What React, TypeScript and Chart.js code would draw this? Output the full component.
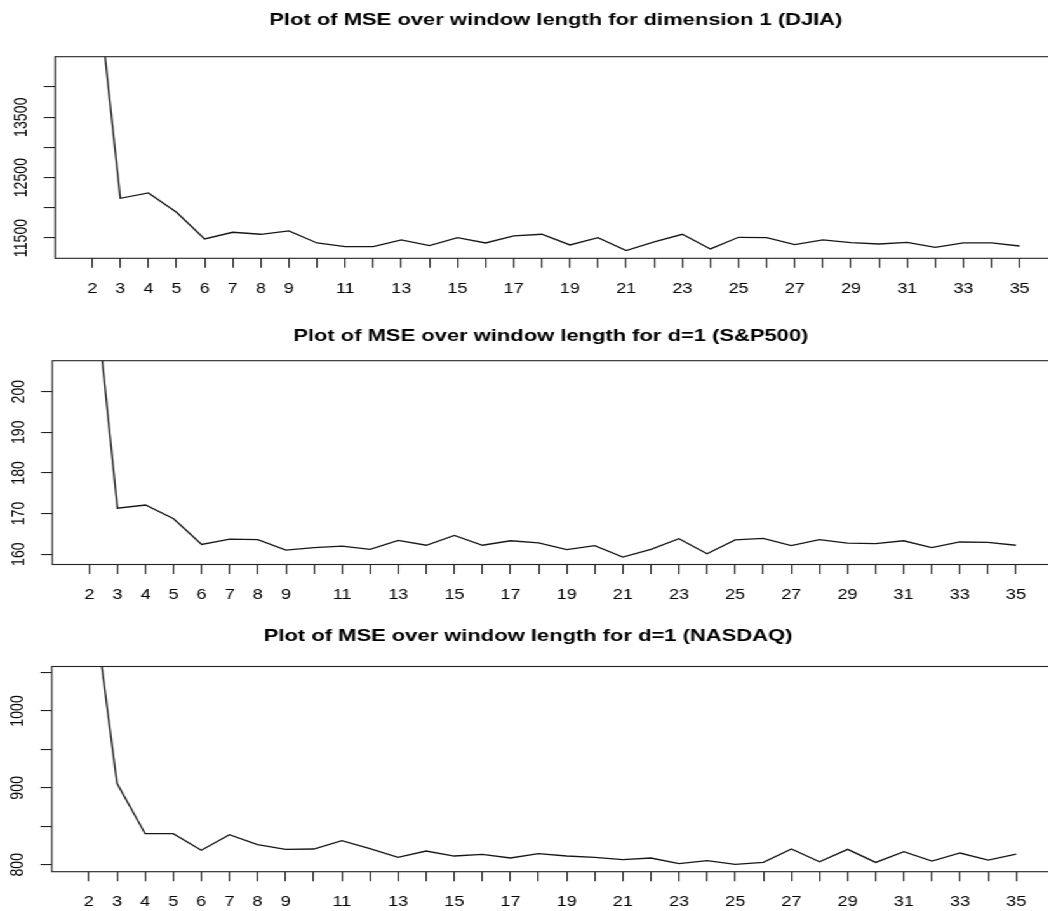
import React, { useEffect, useRef } from 'react';
import { Chart, registerables } from 'chart.js';

Chart.register(...registerables);

// ---------------- data ----------------
const windowLength = [2, 3, 4, 5, 6, 7, 8, 9, 10, 11, 12, 13, 14, 15, 16, 17, 18, 19, 20, 21, 22, 23, 24, 25, 26, 27, 28, 29, 30, 31, 32, 33, 34, 35];
const xLabelShown = [2, 3, 4, 5, 6, 7, 8, 9, 11, 13, 15, 17, 19, 21, 23, 25, 27, 29, 31, 33, 35];

const djiaMse = [16480, 12157, 12245, 11925, 11483, 11594, 11561, 11616, 11417, 11356, 11358, 11467, 11373, 11505, 11417, 11533, 11561, 11384, 11505, 11290, 11434, 11561, 11318, 11511, 11505, 11390, 11467, 11423, 11400, 11428, 11345, 11417, 11417, 11367];
const sp500Mse = [238.5, 171.3, 172.1, 168.7, 162.4, 163.7, 163.6, 161.0, 161.6, 162.0, 161.2, 163.4, 162.2, 164.6, 162.2, 163.3, 162.8, 161.1, 162.1, 159.3, 161.2, 163.8, 160.1, 163.5, 163.9, 162.1, 163.6, 162.7, 162.6, 163.3, 161.6, 163.0, 162.9, 162.2];
const nasdaqMse = [1187, 905.9, 840.3, 840.3, 818.7, 839.0, 826.0, 820.0, 820.4, 831.2, 820.8, 809.5, 817.8, 811.3, 813.4, 808.7, 814.3, 811.3, 809.5, 806.5, 808.7, 801.3, 805.2, 800.4, 803.0, 820.4, 803.9, 820.0, 803.0, 816.9, 804.8, 815.2, 806.1, 813.9];

const djiaYTicks = [11500, 12000, 12500, 13000, 13500, 14000];
const djiaYLabels = ['11500', '', '12500', '', '13500', ''];
const sp500YTicks = [160, 170, 180, 190, 200];
const sp500YLabels = ['160', '170', '180', '190', '200'];
const nasdaqYTicks = [800, 850, 900, 950, 1000, 1050];
const nasdaqYLabels = ['800', '', '900', '', '1000', ''];

const djiaTitle = 'Plot of MSE over window length for dimension 1 (DJIA)';
const sp500Title = 'Plot of MSE over window length for d=1 (S&P500)';
const nasdaqTitle = 'Plot of MSE over window length for d=1 (NASDAQ)';

const djiaRange = [11163, 14502];
const sp500Range = [157.46, 207.6];
const nasdaqRange = [790.9, 1057.7];

// ---------------- style / layout ----------------
const STRETCH = 1.27;
const CANVAS_W = 850;
const FONT = '"Liberation Sans", Arial, Helvetica, sans-serif';
const LABEL_SIZE = 14.2;
const TITLE_SIZE = 17.3;
const Y_TICK_LEN = 8.9;
const X_TICK_LEN = 9.5;
const Y_LABEL_OFFSET = 26.6;
const INK = '#161616';

const panels = [
  { title: djiaTitle, values: djiaMse, yTicks: djiaYTicks, yLabels: djiaYLabels, range: djiaRange,
    top: 0, height: 300, areaLeft: 43.4, areaRight: 832.0, titlePadTop: 11.85, titlePadBottom: 27.55, xAxisHeight: 41.7, titleShift: 0 },
  { title: sp500Title, values: sp500Mse, yTicks: sp500YTicks, yLabels: sp500YLabels, range: sp500Range,
    top: 300, height: 300, areaLeft: 41.2, areaRight: 829.1, titlePadTop: 27.15, titlePadBottom: 16.25, xAxisHeight: 35.5, titleShift: -1.4 },
  { title: nasdaqTitle, values: nasdaqMse, yTicks: nasdaqYTicks, yLabels: nasdaqYLabels, range: nasdaqRange,
    top: 600, height: 311, areaLeft: 40.8, areaRight: 829.4, titlePadTop: 27.65, titlePadBottom: 21.55, xAxisHeight: 39.3, titleShift: -19.3 },
];

function measureWidest(labels: string[]): number {
  const c = document.createElement('canvas').getContext('2d');
  if (!c) return 0;
  c.font = `${LABEL_SIZE}px ${FONT}`;
  return Math.max(0, ...labels.map((l) => c.measureText(l).width));
}

function Panel({ p }: { p: any }) {
  const ref = useRef<HTMLCanvasElement | null>(null);

  useEffect(() => {
    if (!ref.current) return;
    const first = windowLength[0];
    const last = windowLength[windowLength.length - 1];
    const ext = 0.04 * (last - first);
    const yPad = Y_LABEL_OFFSET - Y_TICK_LEN - measureWidest(p.yLabels) / 2;

    const boxPlugin = {
      id: 'rbox',
      afterLayout(chart: any) {
        const t = chart.titleBlock;
        if (t && p.titleShift) {
          t.left += p.titleShift;
          t.right += p.titleShift;
        }
      },
      afterDatasetsDraw(chart: any) {
        const { ctx, chartArea } = chart;
        ctx.save();
        ctx.strokeStyle = '#222';
        ctx.lineWidth = 1.1;
        ctx.strokeRect(chartArea.left, chartArea.top, chartArea.right - chartArea.left, chartArea.bottom - chartArea.top);
        ctx.restore();
      },
    };

    const chart = new Chart(ref.current, {
      type: 'line',
      data: {
        datasets: [
          {
            data: windowLength.map((x, i) => ({ x, y: p.values[i] })),
            borderColor: INK,
            borderWidth: 1.3,
            pointRadius: 0,
            tension: 0,
            fill: false,
          },
        ],
      },
      options: {
        animation: false,
        responsive: false,
        events: [],
        layout: { padding: { top: 0, left: 0, bottom: 0, right: CANVAS_W - p.areaRight } },
        plugins: {
          legend: { display: false },
          tooltip: { enabled: false },
          title: {
            display: true,
            text: p.title,
            fullSize: false,
            color: '#000',
            font: { family: FONT, size: TITLE_SIZE, weight: 'bold', lineHeight: 1 },
            padding: { top: p.titlePadTop, bottom: p.titlePadBottom },
          },
        },
        scales: {
          x: {
            type: 'linear',
            min: first - ext,
            max: last + ext,
            afterBuildTicks: (s: any) => {
              s.ticks = windowLength.map((v) => ({ value: v }));
            },
            afterFit: (s: any) => {
              s.height = p.xAxisHeight;
            },
            ticks: {
              autoSkip: false,
              minRotation: 0,
              maxRotation: 0,
              padding: 12.3,
              color: '#000',
              font: { family: FONT, size: LABEL_SIZE },
              callback: (v: any) => (xLabelShown.includes(Number(v)) ? String(v) : ''),
            },
            grid: { display: true, drawOnChartArea: false, drawTicks: true, tickLength: X_TICK_LEN, color: '#222', lineWidth: 1.1 },
            border: { display: false },
          },
          y: {
            type: 'linear',
            min: p.range[0],
            max: p.range[1],
            afterBuildTicks: (s: any) => {
              s.ticks = p.yTicks.map((v: number) => ({ value: v }));
            },
            afterFit: (s: any) => {
              s.width = p.areaLeft;
            },
            ticks: {
              autoSkip: false,
              minRotation: 90,
              maxRotation: 90,
              crossAlign: 'center',
              padding: yPad,
              color: '#000',
              font: { family: FONT, size: LABEL_SIZE },
              callback: (v: any) => {
                const i = p.yTicks.indexOf(Number(v));
                return i >= 0 ? p.yLabels[i] : '';
              },
            },
            grid: { display: true, drawOnChartArea: false, drawTicks: true, tickLength: Y_TICK_LEN, color: '#222', lineWidth: 1.1 },
            border: { display: false },
          },
        },
      },
      plugins: [boxPlugin],
    } as any);

    return () => chart.destroy();
  }, [p]);

  return (
    <canvas
      ref={ref}
      width={CANVAS_W}
      height={p.height}
      style={{ position: 'absolute', left: 0, top: p.top }}
    />
  );
}

export default function App() {
  return (
    <div style={{ position: 'fixed', left: 0, top: 0, width: 1048, height: 911, overflow: 'hidden', background: '#fff' }}>
      <div
        style={{
          position: 'absolute',
          left: 0,
          top: 0,
          width: CANVAS_W,
          height: 911,
          transform: `scaleX(${STRETCH})`,
          transformOrigin: '0 0',
        }}
      >
        {panels.map((p, i) => (
          <Panel key={i} p={p} />
        ))}
      </div>
    </div>
  );
}
